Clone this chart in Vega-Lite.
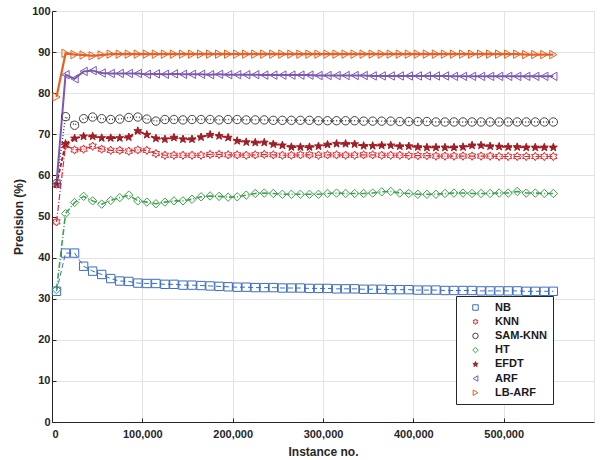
{
  "$schema": "https://vega.github.io/schema/vega-lite/v6.json",
  "width": 542,
  "height": 411,
  "autosize": {"type": "none"},
  "padding": {"left": 52, "top": 11, "right": 9, "bottom": 38},
  "background": "white",
  "data": {"values": [
{"m":"NB","n":5000,"p":31.8},{"m":"NB","n":15000,"p":41.1},{"m":"NB","n":25000,"p":41.1},{"m":"NB","n":35000,"p":37.9},{"m":"NB","n":45000,"p":36.7},{"m":"NB","n":55000,"p":35.9},{"m":"NB","n":65000,"p":34.9},{"m":"NB","n":75000,"p":34.3},{"m":"NB","n":85000,"p":34.2},{"m":"NB","n":95000,"p":33.8},
{"m":"NB","n":105000,"p":33.7},{"m":"NB","n":115000,"p":33.7},{"m":"NB","n":125000,"p":33.5},{"m":"NB","n":135000,"p":33.5},{"m":"NB","n":145000,"p":33.3},{"m":"NB","n":155000,"p":33.3},{"m":"NB","n":165000,"p":33.2},{"m":"NB","n":175000,"p":33.1},{"m":"NB","n":185000,"p":33.0},{"m":"NB","n":195000,"p":32.9},
{"m":"NB","n":205000,"p":32.8},{"m":"NB","n":215000,"p":32.8},{"m":"NB","n":225000,"p":32.7},{"m":"NB","n":235000,"p":32.7},{"m":"NB","n":245000,"p":32.7},{"m":"NB","n":255000,"p":32.6},{"m":"NB","n":265000,"p":32.6},{"m":"NB","n":275000,"p":32.6},{"m":"NB","n":285000,"p":32.5},{"m":"NB","n":295000,"p":32.5},
{"m":"NB","n":305000,"p":32.5},{"m":"NB","n":315000,"p":32.4},{"m":"NB","n":325000,"p":32.4},{"m":"NB","n":335000,"p":32.4},{"m":"NB","n":345000,"p":32.3},{"m":"NB","n":355000,"p":32.3},{"m":"NB","n":365000,"p":32.3},{"m":"NB","n":375000,"p":32.2},{"m":"NB","n":385000,"p":32.2},{"m":"NB","n":395000,"p":32.2},
{"m":"NB","n":405000,"p":32.1},{"m":"NB","n":415000,"p":32.1},{"m":"NB","n":425000,"p":32.1},{"m":"NB","n":435000,"p":32.0},{"m":"NB","n":445000,"p":32.0},{"m":"NB","n":455000,"p":32.0},{"m":"NB","n":465000,"p":32.0},{"m":"NB","n":475000,"p":31.9},{"m":"NB","n":485000,"p":31.9},{"m":"NB","n":495000,"p":31.9},
{"m":"NB","n":505000,"p":31.9},{"m":"NB","n":515000,"p":31.9},{"m":"NB","n":525000,"p":31.8},{"m":"NB","n":535000,"p":31.8},{"m":"NB","n":545000,"p":31.8},{"m":"NB","n":555000,"p":31.8},
{"m":"KNN","n":5000,"p":48.7},{"m":"KNN","n":15000,"p":67.3},{"m":"KNN","n":25000,"p":66.2},{"m":"KNN","n":35000,"p":66.4},{"m":"KNN","n":45000,"p":67.1},{"m":"KNN","n":55000,"p":66.4},{"m":"KNN","n":65000,"p":66.1},{"m":"KNN","n":75000,"p":66.1},{"m":"KNN","n":85000,"p":65.9},{"m":"KNN","n":95000,"p":66.2},
{"m":"KNN","n":105000,"p":66.1},{"m":"KNN","n":115000,"p":65.3},{"m":"KNN","n":125000,"p":64.9},{"m":"KNN","n":135000,"p":64.9},{"m":"KNN","n":145000,"p":64.9},{"m":"KNN","n":155000,"p":64.9},{"m":"KNN","n":165000,"p":64.9},{"m":"KNN","n":175000,"p":65.1},{"m":"KNN","n":185000,"p":65.1},{"m":"KNN","n":195000,"p":65.0},
{"m":"KNN","n":205000,"p":65.0},{"m":"KNN","n":215000,"p":64.9},{"m":"KNN","n":225000,"p":65.0},{"m":"KNN","n":235000,"p":65.1},{"m":"KNN","n":245000,"p":65.0},{"m":"KNN","n":255000,"p":64.9},{"m":"KNN","n":265000,"p":64.9},{"m":"KNN","n":275000,"p":65.0},{"m":"KNN","n":285000,"p":65.0},{"m":"KNN","n":295000,"p":64.9},
{"m":"KNN","n":305000,"p":65.0},{"m":"KNN","n":315000,"p":65.0},{"m":"KNN","n":325000,"p":64.9},{"m":"KNN","n":335000,"p":64.9},{"m":"KNN","n":345000,"p":65.0},{"m":"KNN","n":355000,"p":65.0},{"m":"KNN","n":365000,"p":64.9},{"m":"KNN","n":375000,"p":64.9},{"m":"KNN","n":385000,"p":64.9},{"m":"KNN","n":395000,"p":64.8},
{"m":"KNN","n":405000,"p":64.8},{"m":"KNN","n":415000,"p":64.8},{"m":"KNN","n":425000,"p":64.7},{"m":"KNN","n":435000,"p":64.7},{"m":"KNN","n":445000,"p":64.7},{"m":"KNN","n":455000,"p":64.7},{"m":"KNN","n":465000,"p":64.7},{"m":"KNN","n":475000,"p":64.7},{"m":"KNN","n":485000,"p":64.7},{"m":"KNN","n":495000,"p":64.6},
{"m":"KNN","n":505000,"p":64.6},{"m":"KNN","n":515000,"p":64.6},{"m":"KNN","n":525000,"p":64.6},{"m":"KNN","n":535000,"p":64.6},{"m":"KNN","n":545000,"p":64.6},{"m":"KNN","n":555000,"p":64.6},
{"m":"SAM-KNN","n":5000,"p":58.0},{"m":"SAM-KNN","n":15000,"p":74.3},{"m":"SAM-KNN","n":25000,"p":72.2},{"m":"SAM-KNN","n":35000,"p":73.8},{"m":"SAM-KNN","n":45000,"p":74.2},{"m":"SAM-KNN","n":55000,"p":73.8},{"m":"SAM-KNN","n":65000,"p":73.6},{"m":"SAM-KNN","n":75000,"p":73.7},{"m":"SAM-KNN","n":85000,"p":74.1},{"m":"SAM-KNN","n":95000,"p":74.2},
{"m":"SAM-KNN","n":105000,"p":73.7},{"m":"SAM-KNN","n":115000,"p":73.2},{"m":"SAM-KNN","n":125000,"p":73.6},{"m":"SAM-KNN","n":135000,"p":73.6},{"m":"SAM-KNN","n":145000,"p":73.5},{"m":"SAM-KNN","n":155000,"p":73.6},{"m":"SAM-KNN","n":165000,"p":73.6},{"m":"SAM-KNN","n":175000,"p":73.6},{"m":"SAM-KNN","n":185000,"p":73.5},{"m":"SAM-KNN","n":195000,"p":73.6},
{"m":"SAM-KNN","n":205000,"p":73.6},{"m":"SAM-KNN","n":215000,"p":73.5},{"m":"SAM-KNN","n":225000,"p":73.5},{"m":"SAM-KNN","n":235000,"p":73.5},{"m":"SAM-KNN","n":245000,"p":73.4},{"m":"SAM-KNN","n":255000,"p":73.4},{"m":"SAM-KNN","n":265000,"p":73.4},{"m":"SAM-KNN","n":275000,"p":73.4},{"m":"SAM-KNN","n":285000,"p":73.4},{"m":"SAM-KNN","n":295000,"p":73.3},
{"m":"SAM-KNN","n":305000,"p":73.3},{"m":"SAM-KNN","n":315000,"p":73.3},{"m":"SAM-KNN","n":325000,"p":73.3},{"m":"SAM-KNN","n":335000,"p":73.3},{"m":"SAM-KNN","n":345000,"p":73.2},{"m":"SAM-KNN","n":355000,"p":73.2},{"m":"SAM-KNN","n":365000,"p":73.2},{"m":"SAM-KNN","n":375000,"p":73.2},{"m":"SAM-KNN","n":385000,"p":73.1},{"m":"SAM-KNN","n":395000,"p":73.1},
{"m":"SAM-KNN","n":405000,"p":73.1},{"m":"SAM-KNN","n":415000,"p":73.1},{"m":"SAM-KNN","n":425000,"p":73.0},{"m":"SAM-KNN","n":435000,"p":73.0},{"m":"SAM-KNN","n":445000,"p":73.0},{"m":"SAM-KNN","n":455000,"p":73.0},{"m":"SAM-KNN","n":465000,"p":73.0},{"m":"SAM-KNN","n":475000,"p":73.0},{"m":"SAM-KNN","n":485000,"p":73.0},{"m":"SAM-KNN","n":495000,"p":73.0},
{"m":"SAM-KNN","n":505000,"p":73.0},{"m":"SAM-KNN","n":515000,"p":73.0},{"m":"SAM-KNN","n":525000,"p":73.0},{"m":"SAM-KNN","n":535000,"p":73.0},{"m":"SAM-KNN","n":545000,"p":73.0},{"m":"SAM-KNN","n":555000,"p":73.0},
{"m":"HT","n":5000,"p":32.2},{"m":"HT","n":15000,"p":50.7},{"m":"HT","n":25000,"p":53.4},{"m":"HT","n":35000,"p":54.9},{"m":"HT","n":45000,"p":53.8},{"m":"HT","n":55000,"p":53.0},{"m":"HT","n":65000,"p":53.9},{"m":"HT","n":75000,"p":54.6},{"m":"HT","n":85000,"p":55.2},{"m":"HT","n":95000,"p":53.8},
{"m":"HT","n":105000,"p":53.5},{"m":"HT","n":115000,"p":53.1},{"m":"HT","n":125000,"p":53.5},{"m":"HT","n":135000,"p":53.8},{"m":"HT","n":145000,"p":53.8},{"m":"HT","n":155000,"p":54.2},{"m":"HT","n":165000,"p":54.8},{"m":"HT","n":175000,"p":55.0},{"m":"HT","n":185000,"p":54.9},{"m":"HT","n":195000,"p":54.7},
{"m":"HT","n":205000,"p":54.8},{"m":"HT","n":215000,"p":55.2},{"m":"HT","n":225000,"p":55.6},{"m":"HT","n":235000,"p":55.7},{"m":"HT","n":245000,"p":55.6},{"m":"HT","n":255000,"p":55.4},{"m":"HT","n":265000,"p":55.4},{"m":"HT","n":275000,"p":55.4},{"m":"HT","n":285000,"p":55.4},{"m":"HT","n":295000,"p":55.4},
{"m":"HT","n":305000,"p":55.6},{"m":"HT","n":315000,"p":55.7},{"m":"HT","n":325000,"p":55.6},{"m":"HT","n":335000,"p":55.6},{"m":"HT","n":345000,"p":55.6},{"m":"HT","n":355000,"p":55.7},{"m":"HT","n":365000,"p":56.0},{"m":"HT","n":375000,"p":56.1},{"m":"HT","n":385000,"p":55.7},{"m":"HT","n":395000,"p":55.6},
{"m":"HT","n":405000,"p":55.4},{"m":"HT","n":415000,"p":55.4},{"m":"HT","n":425000,"p":55.4},{"m":"HT","n":435000,"p":55.6},{"m":"HT","n":445000,"p":55.7},{"m":"HT","n":455000,"p":55.7},{"m":"HT","n":465000,"p":55.6},{"m":"HT","n":475000,"p":55.6},{"m":"HT","n":485000,"p":55.6},{"m":"HT","n":495000,"p":55.7},
{"m":"HT","n":505000,"p":55.7},{"m":"HT","n":515000,"p":56.1},{"m":"HT","n":525000,"p":55.7},{"m":"HT","n":535000,"p":55.7},{"m":"HT","n":545000,"p":55.6},{"m":"HT","n":555000,"p":55.6},
{"m":"EFDT","n":5000,"p":57.8},{"m":"EFDT","n":15000,"p":67.7},{"m":"EFDT","n":25000,"p":69.0},{"m":"EFDT","n":35000,"p":69.5},{"m":"EFDT","n":45000,"p":69.5},{"m":"EFDT","n":55000,"p":69.1},{"m":"EFDT","n":65000,"p":69.1},{"m":"EFDT","n":75000,"p":69.1},{"m":"EFDT","n":85000,"p":69.3},{"m":"EFDT","n":95000,"p":70.8},
{"m":"EFDT","n":105000,"p":69.9},{"m":"EFDT","n":115000,"p":69.0},{"m":"EFDT","n":125000,"p":68.8},{"m":"EFDT","n":135000,"p":69.2},{"m":"EFDT","n":145000,"p":68.8},{"m":"EFDT","n":155000,"p":68.8},{"m":"EFDT","n":165000,"p":69.3},{"m":"EFDT","n":175000,"p":69.9},{"m":"EFDT","n":185000,"p":69.6},{"m":"EFDT","n":195000,"p":69.2},
{"m":"EFDT","n":205000,"p":68.4},{"m":"EFDT","n":215000,"p":68.1},{"m":"EFDT","n":225000,"p":68.0},{"m":"EFDT","n":235000,"p":68.0},{"m":"EFDT","n":245000,"p":67.6},{"m":"EFDT","n":255000,"p":67.3},{"m":"EFDT","n":265000,"p":66.9},{"m":"EFDT","n":275000,"p":66.9},{"m":"EFDT","n":285000,"p":66.9},{"m":"EFDT","n":295000,"p":67.1},
{"m":"EFDT","n":305000,"p":67.5},{"m":"EFDT","n":315000,"p":67.7},{"m":"EFDT","n":325000,"p":67.7},{"m":"EFDT","n":335000,"p":67.6},{"m":"EFDT","n":345000,"p":67.2},{"m":"EFDT","n":355000,"p":67.2},{"m":"EFDT","n":365000,"p":67.3},{"m":"EFDT","n":375000,"p":67.3},{"m":"EFDT","n":385000,"p":67.1},{"m":"EFDT","n":395000,"p":67.1},
{"m":"EFDT","n":405000,"p":66.9},{"m":"EFDT","n":415000,"p":66.8},{"m":"EFDT","n":425000,"p":66.8},{"m":"EFDT","n":435000,"p":66.8},{"m":"EFDT","n":445000,"p":66.8},{"m":"EFDT","n":455000,"p":66.9},{"m":"EFDT","n":465000,"p":67.3},{"m":"EFDT","n":475000,"p":67.3},{"m":"EFDT","n":485000,"p":67.1},{"m":"EFDT","n":495000,"p":67.0},
{"m":"EFDT","n":505000,"p":66.9},{"m":"EFDT","n":515000,"p":66.9},{"m":"EFDT","n":525000,"p":66.8},{"m":"EFDT","n":535000,"p":66.8},{"m":"EFDT","n":545000,"p":66.8},{"m":"EFDT","n":555000,"p":66.8},
{"m":"ARF","n":5000,"p":58.0},{"m":"ARF","n":15000,"p":84.5},{"m":"ARF","n":25000,"p":83.5},{"m":"ARF","n":35000,"p":85.3},{"m":"ARF","n":45000,"p":85.5},{"m":"ARF","n":55000,"p":84.9},{"m":"ARF","n":65000,"p":84.8},{"m":"ARF","n":75000,"p":84.8},{"m":"ARF","n":85000,"p":84.8},{"m":"ARF","n":95000,"p":84.8},
{"m":"ARF","n":105000,"p":84.6},{"m":"ARF","n":115000,"p":84.7},{"m":"ARF","n":125000,"p":84.6},{"m":"ARF","n":135000,"p":84.7},{"m":"ARF","n":145000,"p":84.6},{"m":"ARF","n":155000,"p":84.6},{"m":"ARF","n":165000,"p":84.6},{"m":"ARF","n":175000,"p":84.5},{"m":"ARF","n":185000,"p":84.6},{"m":"ARF","n":195000,"p":84.5},
{"m":"ARF","n":205000,"p":84.5},{"m":"ARF","n":215000,"p":84.5},{"m":"ARF","n":225000,"p":84.5},{"m":"ARF","n":235000,"p":84.4},{"m":"ARF","n":245000,"p":84.4},{"m":"ARF","n":255000,"p":84.4},{"m":"ARF","n":265000,"p":84.4},{"m":"ARF","n":275000,"p":84.4},{"m":"ARF","n":285000,"p":84.4},{"m":"ARF","n":295000,"p":84.3},
{"m":"ARF","n":305000,"p":84.3},{"m":"ARF","n":315000,"p":84.3},{"m":"ARF","n":325000,"p":84.3},{"m":"ARF","n":335000,"p":84.3},{"m":"ARF","n":345000,"p":84.3},{"m":"ARF","n":355000,"p":84.2},{"m":"ARF","n":365000,"p":84.2},{"m":"ARF","n":375000,"p":84.2},{"m":"ARF","n":385000,"p":84.2},{"m":"ARF","n":395000,"p":84.2},
{"m":"ARF","n":405000,"p":84.2},{"m":"ARF","n":415000,"p":84.2},{"m":"ARF","n":425000,"p":84.2},{"m":"ARF","n":435000,"p":84.2},{"m":"ARF","n":445000,"p":84.1},{"m":"ARF","n":455000,"p":84.1},{"m":"ARF","n":465000,"p":84.1},{"m":"ARF","n":475000,"p":84.1},{"m":"ARF","n":485000,"p":84.1},{"m":"ARF","n":495000,"p":84.1},
{"m":"ARF","n":505000,"p":84.1},{"m":"ARF","n":515000,"p":84.1},{"m":"ARF","n":525000,"p":84.1},{"m":"ARF","n":535000,"p":84.1},{"m":"ARF","n":545000,"p":84.1},{"m":"ARF","n":555000,"p":84.1},
{"m":"LB-ARF","n":5000,"p":79.1},{"m":"LB-ARF","n":15000,"p":89.7},{"m":"LB-ARF","n":25000,"p":89.4},{"m":"LB-ARF","n":35000,"p":89.3},{"m":"LB-ARF","n":45000,"p":89.1},{"m":"LB-ARF","n":55000,"p":89.3},{"m":"LB-ARF","n":65000,"p":89.5},{"m":"LB-ARF","n":75000,"p":89.5},{"m":"LB-ARF","n":85000,"p":89.5},{"m":"LB-ARF","n":95000,"p":89.5},
{"m":"LB-ARF","n":105000,"p":89.5},{"m":"LB-ARF","n":115000,"p":89.5},{"m":"LB-ARF","n":125000,"p":89.5},{"m":"LB-ARF","n":135000,"p":89.5},{"m":"LB-ARF","n":145000,"p":89.5},{"m":"LB-ARF","n":155000,"p":89.5},{"m":"LB-ARF","n":165000,"p":89.5},{"m":"LB-ARF","n":175000,"p":89.5},{"m":"LB-ARF","n":185000,"p":89.5},{"m":"LB-ARF","n":195000,"p":89.5},
{"m":"LB-ARF","n":205000,"p":89.5},{"m":"LB-ARF","n":215000,"p":89.5},{"m":"LB-ARF","n":225000,"p":89.5},{"m":"LB-ARF","n":235000,"p":89.5},{"m":"LB-ARF","n":245000,"p":89.5},{"m":"LB-ARF","n":255000,"p":89.5},{"m":"LB-ARF","n":265000,"p":89.5},{"m":"LB-ARF","n":275000,"p":89.5},{"m":"LB-ARF","n":285000,"p":89.5},{"m":"LB-ARF","n":295000,"p":89.5},
{"m":"LB-ARF","n":305000,"p":89.5},{"m":"LB-ARF","n":315000,"p":89.5},{"m":"LB-ARF","n":325000,"p":89.5},{"m":"LB-ARF","n":335000,"p":89.5},{"m":"LB-ARF","n":345000,"p":89.5},{"m":"LB-ARF","n":355000,"p":89.5},{"m":"LB-ARF","n":365000,"p":89.5},{"m":"LB-ARF","n":375000,"p":89.5},{"m":"LB-ARF","n":385000,"p":89.5},{"m":"LB-ARF","n":395000,"p":89.5},
{"m":"LB-ARF","n":405000,"p":89.5},{"m":"LB-ARF","n":415000,"p":89.5},{"m":"LB-ARF","n":425000,"p":89.5},{"m":"LB-ARF","n":435000,"p":89.5},{"m":"LB-ARF","n":445000,"p":89.5},{"m":"LB-ARF","n":455000,"p":89.5},{"m":"LB-ARF","n":465000,"p":89.5},{"m":"LB-ARF","n":475000,"p":89.5},{"m":"LB-ARF","n":485000,"p":89.5},{"m":"LB-ARF","n":495000,"p":89.5},
{"m":"LB-ARF","n":505000,"p":89.5},{"m":"LB-ARF","n":515000,"p":89.5},{"m":"LB-ARF","n":525000,"p":89.4},{"m":"LB-ARF","n":535000,"p":89.4},{"m":"LB-ARF","n":545000,"p":89.4},{"m":"LB-ARF","n":555000,"p":89.4}
  ]},
  "encoding": {
    "x": {"field": "n", "type": "quantitative", "title": "Instance no.",
      "scale": {"domain": [0, 600000], "nice": false},
      "axis": {"values": [0, 100000, 200000, 300000, 400000, 500000], "format": ",d", "labelPadding": 10, "titlePadding": 7, "tickSize": -4}},
    "y": {"field": "p", "type": "quantitative", "title": "Precision (%)",
      "scale": {"domain": [0, 100], "nice": false},
      "axis": {"values": [0, 10, 20, 30, 40, 50, 60, 70, 80, 90, 100], "format": "d", "labelPadding": 6, "titlePadding": 6, "tickSize": -4}}
  },
  "layer": [
    {
      "mark": {"type": "line", "clip": true},
      "encoding": {
        "detail": {"field": "m"},
        "color": {"field": "m", "type": "nominal", "legend": null,
          "scale": {"domain": ["LB-ARF", "ARF", "EFDT", "HT", "SAM-KNN", "KNN", "NB"],
                    "range": ["#E8601F", "#7E57B4", "#A01E24", "#3FA34D", "#444444", "#E0282E", "#3B6DC2"]}},
        "strokeDash": {"field": "m", "type": "nominal", "legend": null,
          "scale": {"domain": ["LB-ARF", "ARF", "EFDT", "HT", "SAM-KNN", "KNN", "NB"],
                    "range": [[1, 0], [1, 0], [4, 2], [6, 2, 1, 2], [1, 2], [6, 2, 1, 2], [5, 3]]}},
        "strokeWidth": {"field": "m", "type": "nominal", "legend": null,
          "scale": {"domain": ["LB-ARF", "ARF", "EFDT", "HT", "SAM-KNN", "KNN", "NB"],
                    "range": [2.2, 1, 1, 1, 1, 1, 1]}}
      }
    },
    {
      "mark": {"type": "point", "filled": true, "opacity": 1, "strokeWidth": 1, "size": 70},
      "encoding": {
        "shape": {"field": "m", "type": "nominal",
          "legend": {"title": null, "orient": "none", "legendX": 404, "legendY": 285,
            "strokeColor": "#262626", "fillColor": "white", "padding": 6,
            "labelFont": "Liberation Sans", "labelFontWeight": "bold", "labelFontSize": 11, "labelColor": "#1a1a1a",
            "symbolSize": 30, "symbolStrokeWidth": 1, "symbolOffset": 8, "labelOffset": 14, "rowPadding": 2.2},
          "scale": {"domain": ["NB", "KNN", "SAM-KNN", "HT", "EFDT", "ARF", "LB-ARF"],
                    "range": ["square",
                              "M0,-1L0.289,-0.5L0.866,-0.5L0.577,0L0.866,0.5L0.289,0.5L0,1L-0.289,0.5L-0.866,0.5L-0.577,0L-0.866,-0.5L-0.289,-0.5Z",
                              "circle", "diamond",
                              "M0,-1L0.235,-0.324L0.951,-0.309L0.38,0.124L0.588,0.809L0,0.4L-0.588,0.809L-0.38,0.124L-0.951,-0.309L-0.235,-0.324Z",
                              "triangle-left", "triangle-right"]}},
        "stroke": {"field": "m", "type": "nominal",
          "scale": {"domain": ["NB", "KNN", "SAM-KNN", "HT", "EFDT", "ARF", "LB-ARF"],
                    "range": ["#3B6DC2", "#E0282E", "#444444", "#3FA34D", "#A01E24", "#7E57B4", "#E8601F"]}},
        "fill": {"field": "m", "type": "nominal",
          "scale": {"domain": ["NB", "KNN", "SAM-KNN", "HT", "EFDT", "ARF", "LB-ARF"],
                    "range": ["transparent", "transparent", "transparent", "transparent", "#A01E24", "transparent", "transparent"]}}
      }
    }
  ],
  "config": {
    "font": "Liberation Sans",
    "view": {"stroke": "#e3e3e3"},
    "axis": {
      "labelFont": "Liberation Sans", "labelFontWeight": "bold", "labelFontSize": 11, "labelColor": "#262626",
      "titleFont": "Liberation Sans", "titleFontWeight": "bold", "titleFontSize": 12, "titleColor": "#262626",
      "domainColor": "#262626", "domainWidth": 1, "tickColor": "#262626",
      "gridColor": "#e3e3e3", "gridWidth": 1
    }
  }
}
